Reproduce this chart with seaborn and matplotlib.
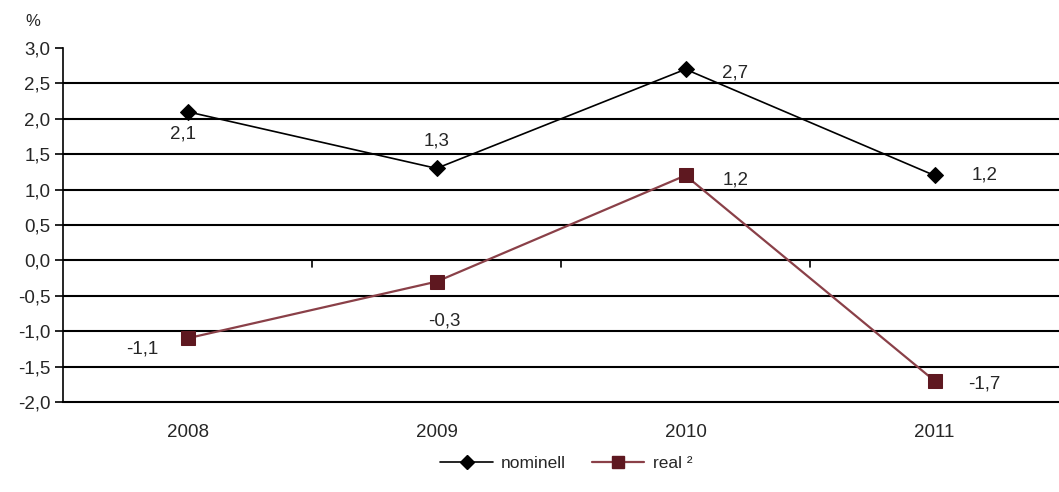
import matplotlib
matplotlib.use("Agg")
import matplotlib.pyplot as plt
import seaborn as sns
import pandas as pd
from matplotlib.lines import Line2D

years = ["2008", "2009", "2010", "2011"]
nominell = [2.1, 1.3, 2.7, 1.2]
real = [-1.1, -0.3, 1.2, -1.7]
yticks = [-2.0, -1.5, -1.0, -0.5, 0.0, 0.5, 1.0, 1.5, 2.0, 2.5, 3.0]

sns.set_style("white")
plt.rcParams["font.family"] = ["Liberation Sans", "DejaVu Sans"]

fig = plt.figure(figsize=(10.59, 4.92), dpi=100)
ax = fig.add_axes([0.0595, 0.1829, 0.9405, 0.7195])

df = pd.DataFrame({"year": years * 2,
                   "value": nominell + real,
                   "series": ["nominell"] * 4 + ["real"] * 4})

nom_col = "#000000"
real_line = "#8a4048"
real_mark = "#5e1820"

sns.lineplot(data=df[df.series == "nominell"], x="year", y="value", ax=ax,
             color=nom_col, lw=1.2, marker="D", markersize=8,
             markerfacecolor=nom_col, markeredgecolor=nom_col, sort=False, zorder=5)
sns.lineplot(data=df[df.series == "real"], x="year", y="value", ax=ax,
             color=real_line, lw=1.6, marker="s", markersize=10,
             markerfacecolor=real_mark, markeredgecolor=real_mark, sort=False, zorder=5)

FS = 13.5
ax.set_xlim(-0.5, 3.5)
ax.set_ylim(-2.0, 3.0)
ax.set_yticks(yticks)
ax.set_yticklabels([f"{t:.1f}".replace(".", ",") for t in yticks], fontsize=FS)
ax.set_xticks(range(len(years)))
ax.set_xticklabels(years, fontsize=FS)
ax.tick_params(axis="x", length=0, pad=16)
ax.tick_params(axis="y", length=6, width=1.2, color="black", pad=3, direction="out", left=True)
ax.set_xlabel("")
ax.set_ylabel("")

for t in yticks[1:-1]:
    ax.axhline(t, color="black", lw=1.5, zorder=1)

# category boundary ticks on the zero line
for b in [0.5, 1.5, 2.5]:
    ax.plot([b, b], [0, -0.1], color="black", lw=1.2, zorder=2)

for s in ["top", "right"]:
    ax.spines[s].set_visible(False)
ax.spines["left"].set_color("black")
ax.spines["left"].set_linewidth(1.2)
ax.spines["bottom"].set_color("black")
ax.spines["bottom"].set_linewidth(1.5)

fmt = lambda v: f"{v:.1f}".replace(".", ",")
nom_off = [(-0.02, -0.32), (0.0, 0.38), (0.2, -0.05), (0.2, 0.0)]
real_off = [(-0.18, -0.15), (0.03, -0.55), (0.2, -0.07), (0.2, -0.05)]
for i, v in enumerate(nominell):
    dx, dy = nom_off[i]
    ax.text(i + dx, v + dy, fmt(v), fontsize=FS, ha="center", va="center", zorder=6)
for i, v in enumerate(real):
    dx, dy = real_off[i]
    ax.text(i + dx, v + dy, fmt(v), fontsize=FS, ha="center", va="center", zorder=6)

fig.text(0.024, 0.957, "%", fontsize=12, ha="left", va="center")

handles = [Line2D([], [], color=nom_col, lw=1.2, marker="D", markersize=7),
           Line2D([], [], color=real_line, lw=1.6, marker="s", markersize=8,
                  markerfacecolor=real_mark, markeredgecolor=real_mark)]
fig.legend(handles, ["nominell", "real ²"], loc="center", bbox_to_anchor=(0.535, 0.058),
           ncol=2, frameon=False, fontsize=12.5, handlelength=3, columnspacing=1.5,
           handletextpad=0.5)

fig.savefig("out.png", dpi=100)
